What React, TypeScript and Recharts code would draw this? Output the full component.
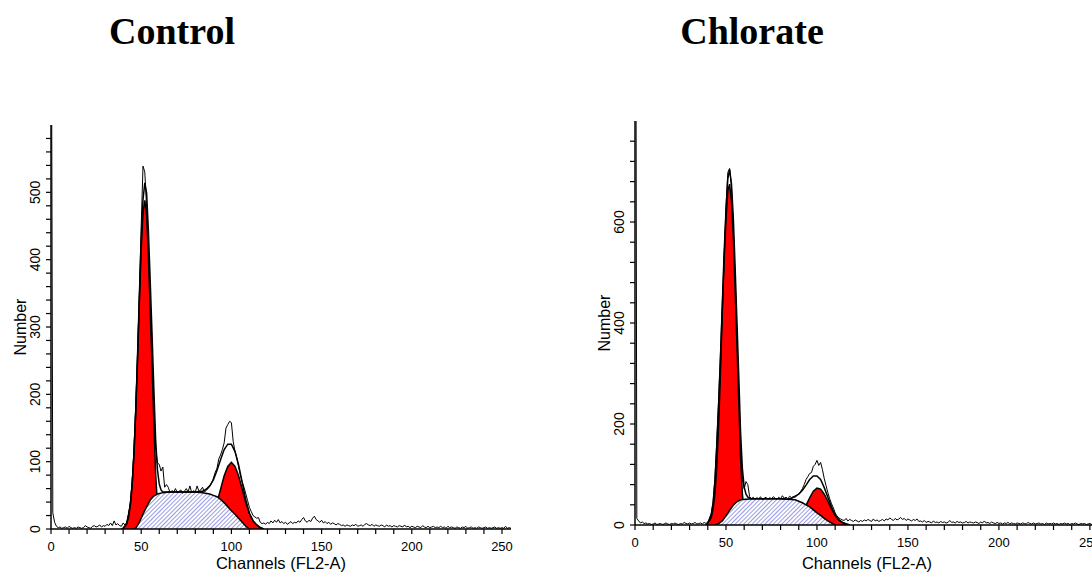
import React from 'react';
import { ComposedChart, Area, Line, XAxis, YAxis } from 'recharts';

// channel axis (FL2-A), shared by both panels
const xTicks = [0, 10, 20, 30, 40, 50, 60, 70, 80, 90, 100, 110, 120, 130, 140, 150, 160, 170, 180, 190, 200, 210, 220, 230, 240, 250];
const xLabels = [0, 50, 100, 150, 200, 250];

const ctlYTicks = [0, 20, 40, 60, 80, 100, 120, 140, 160, 180, 200, 220, 240, 260, 280, 300, 320, 340, 360, 380, 400, 420, 440, 460, 480, 500, 520, 540, 560, 580];
const ctlYLabels = [0, 100, 200, 300, 400, 500];
const chlYTicks = [0, 40, 80, 120, 160, 200, 240, 280, 320, 360, 400, 440, 480, 520, 560, 600, 640, 680, 720, 760];
const chlYLabels = [0, 200, 400, 600];

// Control: raw histogram, one count per channel 0..255
const ctlRaw = [
  1000, 24, 10, 4, 2, 3, 1, 2, 3, 1, 4, 2, 1, 2, 1, 3, 2, 1, 2, 5,
  3, 2, 1, 4, 5, 3, 4, 6, 3, 5, 4, 7, 5, 9, 5, 12, 6, 8, 5, 4,
  9, 6, 10, 22, 40, 72, 118, 185, 262, 352, 450, 539, 530, 478, 410, 345, 262, 190, 122, 98,
  96, 86, 92, 62, 66, 62, 54, 57, 55, 60, 54, 56, 58, 53, 56, 60, 55, 64, 54, 57,
  55, 64, 56, 58, 62, 55, 57, 60, 64, 68, 75, 84, 90, 104, 110, 118, 128, 150, 155, 160,
  158, 130, 115, 106, 92, 80, 70, 62, 52, 42, 32, 26, 20, 18, 16, 17, 10, 8, 9, 7,
  10, 8, 12, 9, 13, 10, 14, 9, 11, 8, 10, 7, 9, 11, 8, 10, 9, 12, 10, 14,
  17, 12, 10, 13, 11, 16, 19, 14, 12, 10, 13, 9, 11, 8, 10, 7, 9, 8, 6, 8,
  7, 5, 6, 4, 6, 5, 4, 6, 5, 7, 4, 5, 6, 4, 7, 8, 6, 5, 7, 4,
  6, 5, 4, 6, 5, 3, 6, 4, 5, 3, 5, 4, 3, 5, 4, 3, 6, 3, 4, 2,
  4, 3, 2, 4, 3, 2, 5, 3, 2, 4, 2, 3, 4, 2, 3, 2, 4, 2, 3, 1,
  4, 2, 3, 2, 1, 3, 2, 1, 3, 2, 4, 1, 2, 3, 1, 2, 1, 3, 2, 1,
  2, 3, 1, 2, 1, 2, 3, 1, 2, 1, 2, 1, 4, 1, 2, 1,
];
const ctlG1Ch = [39, 40, 41, 42, 43, 44, 45, 46, 47, 48, 49, 50, 51, 52, 53, 54, 55, 56, 57, 58, 59, 60, 61, 62, 63];
const ctlG1 = [0, 1, 4, 8, 18, 36, 66, 112, 176, 254, 338, 415, 469, 488, 466, 405, 325, 245, 160, 82, 36, 14, 5, 1, 0];
const ctlSCh = [45, 47, 49, 51, 53, 55, 57, 59, 62, 66, 70, 75, 80, 84, 88, 90, 92, 94, 96, 98, 100, 102, 104, 106, 108, 110];
const ctlS = [0, 1, 10, 22, 33, 43, 49, 52, 54, 55, 55, 55, 55, 54, 52, 50, 48, 44, 39, 33, 27, 22, 16, 10, 4, 0];
const ctlG2Ch = [84, 86, 88, 90, 92, 94, 96, 98, 100, 102, 104, 106, 108, 110, 112, 114, 116, 118];
const ctlG2 = [2, 6, 12, 23, 39, 59, 79, 93, 99, 93, 79, 59, 39, 23, 12, 6, 2, 0];
const ctlFitCh = [40, 42, 44, 45, 46, 47, 48, 49, 50, 51, 52, 53, 54, 55, 56, 57, 58, 59, 60, 61, 62, 64, 66, 70, 75, 80, 84, 86, 88, 90, 92, 94, 96, 98, 100, 102, 104, 106, 108, 110, 112, 114, 116, 118];
const ctlFit = [1, 8, 36, 66, 112, 177, 259, 348, 430, 489, 514, 499, 443, 368, 291, 209, 133, 88, 67, 58, 55, 55, 55, 55, 55, 55, 56, 59, 64, 73, 87, 103, 118, 126, 126, 115, 95, 69, 43, 23, 12, 6, 2, 0];

// Chlorate
const chlRaw = [
  2000, 13, 8, 4, 6, 3, 4, 2, 3, 1, 2, 4, 1, 2, 3, 1, 2, 4, 2, 1,
  3, 2, 4, 2, 1, 3, 2, 5, 3, 2, 4, 2, 3, 5, 2, 3, 4, 2, 5, 3,
  6, 8, 14, 30, 60, 110, 190, 290, 410, 530, 630, 698, 706, 670, 590, 490, 380, 270, 160, 90,
  72, 86, 80, 56, 52, 55, 51, 54, 52, 56, 50, 53, 55, 51, 54, 52, 56, 53, 51, 55,
  52, 58, 53, 55, 52, 57, 54, 56, 55, 58, 62, 66, 72, 80, 90, 96, 102, 104, 116, 120,
  128, 118, 124, 110, 92, 78, 64, 52, 42, 34, 24, 18, 14, 12, 10, 9, 13, 8, 11, 9,
  7, 10, 8, 6, 9, 7, 10, 8, 11, 9, 7, 12, 8, 10, 7, 9, 11, 8, 12, 10,
  14, 11, 9, 13, 10, 12, 15, 11, 13, 9, 12, 10, 8, 11, 9, 12, 7, 8, 6, 9,
  5, 7, 6, 4, 8, 5, 6, 4, 7, 5, 6, 4, 5, 9, 5, 6, 4, 7, 5, 6,
  4, 5, 7, 4, 6, 5, 4, 6, 5, 3, 6, 4, 8, 4, 5, 3, 6, 4, 3, 5,
  3, 4, 2, 4, 3, 5, 2, 4, 3, 2, 4, 3, 2, 4, 3, 2, 5, 3, 2, 4,
  2, 3, 4, 2, 3, 1, 4, 2, 3, 2, 4, 2, 3, 1, 3, 2, 4, 2, 3, 1,
  3, 2, 4, 2, 1, 3, 2, 3, 1, 2, 3, 1, 2, 3, 1, 2,
];
const chlG1Ch = [39, 40, 41, 42, 43, 44, 45, 46, 47, 48, 49, 50, 51, 52, 53, 54, 55, 56, 57, 58, 59, 60, 61, 62, 63, 64];
const chlG1 = [0, 4, 10, 22, 45, 90, 160, 240, 330, 430, 525, 605, 662, 675, 642, 572, 470, 360, 250, 135, 62, 25, 10, 4, 1, 0];
const chlSCh = [44, 46, 48, 50, 52, 54, 56, 58, 61, 65, 70, 75, 80, 84, 88, 90, 92, 94, 96, 98, 100, 102, 104, 106, 108, 110];
const chlS = [0, 3, 8, 18, 29, 39, 46, 50, 51, 52, 52, 52, 52, 51, 50, 47, 44, 40, 36, 30, 24, 19, 13, 8, 4, 0];
const chlG2Ch = [86, 88, 90, 92, 94, 96, 98, 100, 102, 104, 106, 108, 110, 112, 114, 116, 118];
const chlG2 = [3, 7, 14, 25, 39, 54, 67, 73, 71, 61, 47, 32, 19, 10, 5, 2, 0];
const chlFitCh = [40, 42, 43, 44, 45, 46, 47, 48, 49, 50, 51, 52, 53, 54, 55, 56, 57, 58, 59, 60, 61, 62, 64, 66, 70, 75, 80, 84, 86, 88, 90, 92, 94, 96, 98, 100, 102, 104, 106, 108, 110, 112, 114, 116, 118];
const chlFit = [4, 22, 45, 90, 161, 243, 335, 438, 540, 623, 685, 704, 676, 611, 513, 406, 298, 185, 112, 75, 61, 55, 52, 52, 52, 52, 52, 51, 53, 57, 61, 69, 79, 90, 97, 97, 90, 74, 55, 36, 19, 10, 5, 2, 0];

const FONT = '"Liberation Sans", Arial, sans-serif';

function buildRows(raw: number[], parts: { key: string; ch: number[]; val: number[] }[]) {
  const rows: any[] = raw.map((v, ch) => ({ ch, raw: v }));
  parts.forEach(p => p.ch.forEach((c, i) => { rows[c][p.key] = p.val[i]; }));
  return rows;
}

const YTick = (props: any) => {
  const { x, y, payload, labels } = props;
  if (!labels.includes(payload.value)) return <g />;
  const cx = x - 11;
  return (
    <text x={cx} y={y} transform={`rotate(-90, ${cx}, ${y})`} textAnchor="middle"
      dominantBaseline="central" fontSize={14} fill="#000">
      {payload.value}
    </text>
  );
};

interface PanelProps {
  hatchId: string;
  rows: any[];
  yMax: number;
  yTicks: number[];
  yLabels: number[];
  top: number;
  right: number;
  xAxisHeight: number;
}

const Panel: React.FC<PanelProps> = ({ hatchId, rows, yMax, yTicks, yLabels, top, right, xAxisHeight }) => (
  <ComposedChart width={560} height={572} data={rows} margin={{ top, right, left: 0, bottom: 0 }}>
    <defs>
      <pattern id={hatchId} patternUnits="userSpaceOnUse" width={3} height={3} patternTransform="rotate(45)">
        <rect width={3} height={3} fill="#ffffff" />
        <line x1={0} y1={0} x2={0} y2={3} stroke="#6f72d8" strokeWidth={1.4} />
      </pattern>
    </defs>
    <XAxis
      dataKey="ch"
      type="number"
      domain={[0, 255]}
      ticks={xTicks}
      interval={0}
      height={xAxisHeight}
      tickSize={5}
      tickMargin={8}
      axisLine={{ stroke: '#000', strokeWidth: 1.5 }}
      tickLine={{ stroke: '#000', strokeWidth: 1.2 }}
      tick={{ fill: '#000', fontSize: 13 }}
      tickFormatter={(v) => (xLabels.includes(v) ? String(v) : '')}
      label={{ value: 'Channels (FL2-A)', position: 'insideBottom', offset: 3, fill: '#000', fontSize: 16.5 }}
    />
    <YAxis
      type="number"
      domain={[0, yMax]}
      allowDataOverflow
      ticks={yTicks}
      interval={0}
      width={51}
      tickSize={5}
      tickMargin={0}
      axisLine={{ stroke: '#000', strokeWidth: 1.5 }}
      tickLine={{ stroke: '#000', strokeWidth: 1.2 }}
      tick={<YTick labels={yLabels} />}
      label={{ value: 'Number', angle: -90, position: 'insideLeft', offset: 20, fill: '#000', fontSize: 16, style: { textAnchor: 'middle' } }}
    />
    <Area dataKey="g1" type="linear" connectNulls fill="#ff0000" fillOpacity={1} stroke="#000" strokeWidth={1.5} dot={false} activeDot={false} isAnimationActive={false} />
    <Area dataKey="g2" type="linear" connectNulls fill="#ff0000" fillOpacity={1} stroke="#000" strokeWidth={1.5} dot={false} activeDot={false} isAnimationActive={false} />
    <Area dataKey="s" type="linear" connectNulls fill={`url(#${hatchId})`} fillOpacity={1} stroke="#000" strokeWidth={1.5} dot={false} activeDot={false} isAnimationActive={false} />
    <Line dataKey="fit" type="linear" connectNulls stroke="#000" strokeWidth={1.5} dot={false} activeDot={false} isAnimationActive={false} />
    <Line dataKey="raw" type="linear" stroke="#000" strokeWidth={1} dot={false} activeDot={false} isAnimationActive={false} />
  </ComposedChart>
);

const titleStyle: React.CSSProperties = {
  position: 'absolute',
  top: 12,
  width: 240,
  textAlign: 'center',
  fontFamily: '"Liberation Serif", "Times New Roman", serif',
  fontWeight: 'bold',
  fontSize: 38,
  lineHeight: '38px',
  color: '#000',
};

export default function App() {
  const ctlRows = buildRows(ctlRaw, [
    { key: 'g1', ch: ctlG1Ch, val: ctlG1 },
    { key: 'g2', ch: ctlG2Ch, val: ctlG2 },
    { key: 's', ch: ctlSCh, val: ctlS },
    { key: 'fit', ch: ctlFitCh, val: ctlFit },
  ]);
  const chlRows = buildRows(chlRaw, [
    { key: 'g1', ch: chlG1Ch, val: chlG1 },
    { key: 'g2', ch: chlG2Ch, val: chlG2 },
    { key: 's', ch: chlSCh, val: chlS },
    { key: 'fit', ch: chlFitCh, val: chlFit },
  ]);

  return (
    <div style={{ position: 'fixed', left: 0, top: 0, width: 1092, height: 572, overflow: 'hidden', background: '#fff', fontFamily: FONT }}>
      <div style={{ ...titleStyle, left: 52 }}>Control</div>
      <div style={{ ...titleStyle, left: 632 }}>Chlorate</div>
      <div style={{ position: 'absolute', left: 0, top: 0 }}>
        <Panel hatchId="hatch-ctl" rows={ctlRows} yMax={600} yTicks={ctlYTicks} yLabels={ctlYLabels} top={125} right={49} xAxisHeight={43} />
      </div>
      <div style={{ position: 'absolute', left: 584, top: 0 }}>
        <Panel hatchId="hatch-chl" rows={chlRows} yMax={800} yTicks={chlYTicks} yLabels={chlYLabels} top={121} right={45} xAxisHeight={47} />
      </div>
    </div>
  );
}
